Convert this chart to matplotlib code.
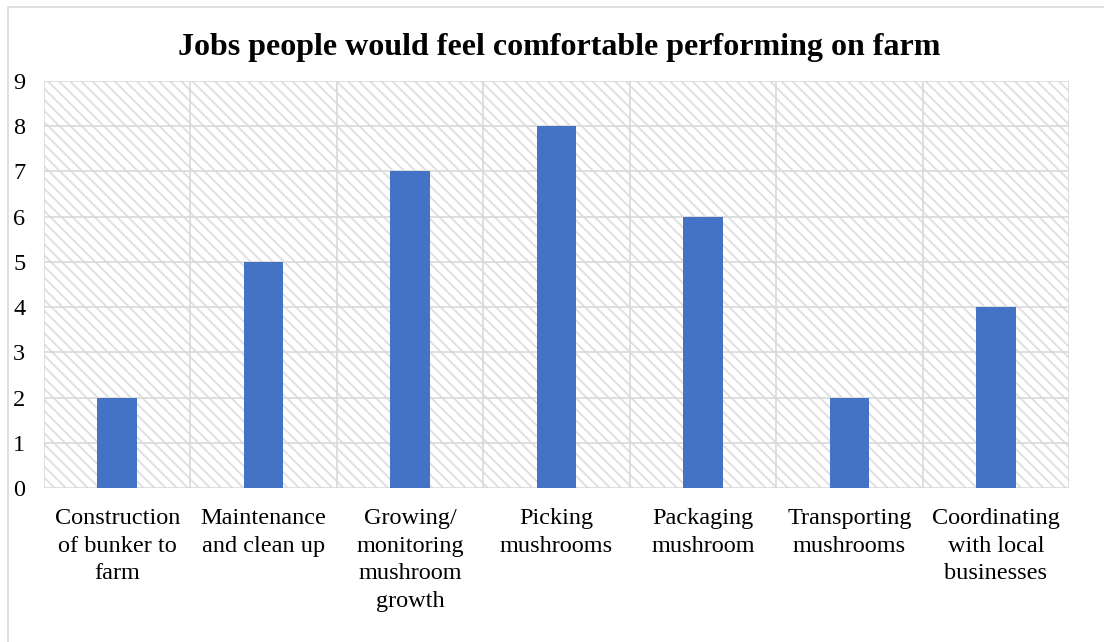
import matplotlib
matplotlib.use("Agg")
import matplotlib.pyplot as plt
from matplotlib.patches import Rectangle
import numpy as np

categories = ["Construction\nof bunker to\nfarm", "Maintenance\nand clean up",
              "Growing/\nmonitoring\nmushroom\ngrowth", "Picking\nmushrooms",
              "Packaging\nmushroom", "Transporting\nmushrooms",
              "Coordinating\nwith local\nbusinesses"]
values = [2, 5, 7, 8, 6, 2, 4]
title = "Jobs people would feel comfortable performing on farm"

plt.rcParams['font.family'] = ['Liberation Serif', 'DejaVu Serif']
plt.rcParams['hatch.color'] = '#dedede'
plt.rcParams['hatch.linewidth'] = 1.3

fig = plt.figure(figsize=(11.04, 6.42), dpi=100)
W, H = 1104, 642
ax = fig.add_axes([44 / W, 1 - 488 / H, (1069 - 44) / W, (488 - 81) / H])

# outer chart border
fig.patches.append(Rectangle((8 / W, -0.1), 1.2, 1 - 7 / H + 0.1, transform=fig.transFigure,
                             fill=False, edgecolor='#d9d9d9', linewidth=1.2))

ax.set_facecolor('white')
bg = Rectangle((0, 0), 1, 1, transform=ax.transAxes, facecolor='white',
               edgecolor='#dedede', linewidth=0, hatch='\\\\\\', zorder=0)
ax.add_patch(bg)

x = np.arange(len(categories))
ax.bar(x, values, width=0.27, color='#4472c4', zorder=3)

ax.set_xlim(-0.5, len(categories) - 0.5)
ax.set_ylim(0, 9)
ax.set_yticks(range(0, 10))
ax.set_xticks(x)
ax.set_xticklabels(categories, fontsize=17.5, linespacing=1.41)
ax.set_xticks(np.arange(-0.5, len(categories), 1), minor=True)
ax.tick_params(axis='both', which='both', length=0)
ax.tick_params(axis='x', pad=14.5)
ax.tick_params(axis='y', labelsize=17.5, pad=22.3)
for lab in ax.get_yticklabels():
    lab.set_horizontalalignment('left')

ax.grid(axis='y', which='major', color='#d9d9d9', linewidth=1.2, zorder=1)
ax.grid(axis='x', which='minor', color='#d9d9d9', linewidth=1.2, zorder=1)
ax.set_axisbelow(True)
for s in ax.spines.values():
    s.set_visible(False)

fig.text((178 + 940) / 2 / W, 1 - 47 / H, title, ha='center', va='center',
         fontsize=23, fontweight='bold')

fig.savefig("out.png", dpi=100)
